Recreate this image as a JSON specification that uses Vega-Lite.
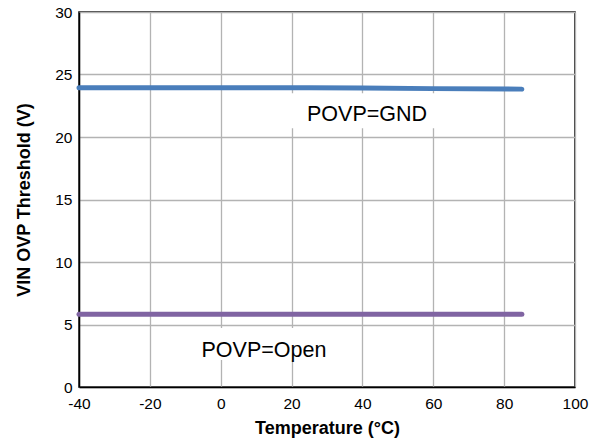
{
  "$schema": "https://vega.github.io/schema/vega-lite/v6.json",
  "autosize": "none",
  "width": 496,
  "height": 375,
  "padding": {"left": 79, "top": 12, "right": 21, "bottom": 56},
  "background": "white",
  "config": {
    "font": "Liberation Sans",
    "view": {"stroke": "black", "strokeWidth": 1.5},
    "axis": {
      "domainColor": "black",
      "domainWidth": 1.5,
      "gridColor": "#b3b3b3",
      "gridWidth": 1.3,
      "gridOpacity": 1,
      "ticks": false,
      "labelFlush": false,
      "labelFont": "Liberation Sans",
      "labelFontSize": 15.5,
      "labelColor": "black",
      "labelExpr": "toString(datum.value)",
      "titleFont": "Liberation Sans",
      "titleFontSize": 18,
      "titleFontWeight": "bold",
      "titleColor": "black"
    }
  },
  "datasets": {
    "curves": [
      {"temp": -40, "vth": 23.94, "mode": "POVP=GND"},
      {"temp": -20, "vth": 23.94, "mode": "POVP=GND"},
      {"temp": 0, "vth": 23.94, "mode": "POVP=GND"},
      {"temp": 25, "vth": 23.94, "mode": "POVP=GND"},
      {"temp": 40, "vth": 23.92, "mode": "POVP=GND"},
      {"temp": 60, "vth": 23.87, "mode": "POVP=GND"},
      {"temp": 85, "vth": 23.83, "mode": "POVP=GND"},
      {"temp": -40, "vth": 5.82, "mode": "POVP=Open"},
      {"temp": 25, "vth": 5.82, "mode": "POVP=Open"},
      {"temp": 85, "vth": 5.82, "mode": "POVP=Open"}
    ],
    "labels": [
      {"label": "POVP=GND", "temp": 41.3, "vth": 21.3, "x0": 18, "x1": 62, "y0": 20.7, "y1": 23.5},
      {"label": "POVP=Open", "temp": 12.2, "vth": 2.42, "x0": -7.3, "x1": 28, "y0": 2.16, "y1": 4.72}
    ]
  },
  "layer": [
    {
      "data": {"name": "labels"},
      "mark": {"type": "rect", "color": "white"},
      "encoding": {
        "x": {"field": "x0", "type": "quantitative", "scale": {"domain": [-40, 100]},
              "axis": {"values": [-40, -20, 0, 20, 40, 60, 80, 100], "title": "Temperature (°C)", "labelPadding": 9, "titlePadding": 8}},
        "x2": {"field": "x1"},
        "y": {"field": "y0", "type": "quantitative", "scale": {"domain": [0, 30]},
              "axis": {"values": [0, 5, 10, 15, 20, 25, 30], "title": "VIN OVP Threshold (V)", "labelPadding": 7, "titlePadding": 21}},
        "y2": {"field": "y1"}
      }
    },
    {
      "data": {"name": "curves"},
      "mark": {"type": "line", "strokeWidth": 5, "strokeCap": "round"},
      "encoding": {
        "x": {"field": "temp", "type": "quantitative"},
        "y": {"field": "vth", "type": "quantitative"},
        "color": {"field": "mode", "type": "nominal",
                  "scale": {"domain": ["POVP=GND", "POVP=Open"], "range": ["#4a7ebb", "#8064a2"]},
                  "legend": null}
      }
    },
    {
      "data": {"name": "labels"},
      "mark": {"type": "text", "fontSize": 21.5, "font": "Liberation Sans", "color": "black", "align": "center", "baseline": "alphabetic"},
      "encoding": {
        "x": {"field": "temp", "type": "quantitative"},
        "y": {"field": "vth", "type": "quantitative"},
        "text": {"field": "label"}
      }
    }
  ]
}
